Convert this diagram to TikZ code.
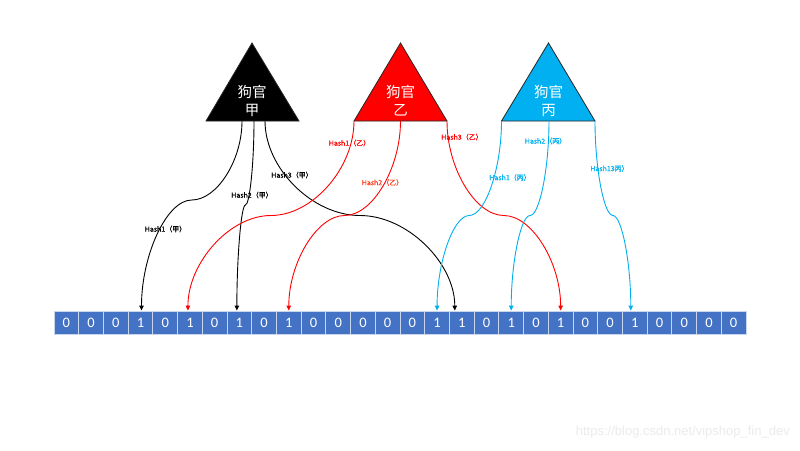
\documentclass[tikz,border=0pt]{standalone}
\usepackage{fontspec}
\setmainfont{Carlito}
\newfontfamily\cjk{Noto Sans CJK SC}
\newfontfamily\cjkb[FakeBold=0.8]{Noto Sans CJK SC}
\newfontfamily\wmfont{Liberation Sans}
\usetikzlibrary{arrows.meta,calc}
\definecolor{cellblue}{HTML}{4472C4}
\definecolor{skyb}{HTML}{00B0F0}
\definecolor{redl}{HTML}{FF0000}
\definecolor{orred}{HTML}{FF4020}
\tikzset{
 cell/.style={fill=cellblue, draw=white!70!cellblue, line width=0.9pt, minimum width=24.714pt, minimum height=23pt, inner sep=0pt, text=white, font=\fontsize{14.5}{14.5}\selectfont},
 tri/.style={draw=black!85, line width=0.8pt},
 trilabel/.style={text=white, font=\cjk\fontsize{14.5}{18}\selectfont, align=center, inner sep=0pt},
 hlabel/.style={font=\cjkb\fontsize{7}{7}\selectfont, inner sep=0pt},
 conn/.style={line width=0.9pt, -{Triangle[length=5pt,width=4.5pt]}},
}
\newcommand\hconn[4]{%
 \draw[conn,#4] let \p1=(#1), \p2=(#2), \p3=(#3) in
 (#1) .. controls (\x1,{0.5*\y1+0.5*\y2}) and ({0.75*\x1+0.25*\x3},\y2)
 .. ({0.5*\x1+0.5*\x3},\y2) .. controls ({0.25*\x1+0.75*\x3},\y2) and (\x3,{0.5*\y2+0.5*\y3}) .. (#3);
}
\begin{document}
\begin{tikzpicture}[x=1pt,y=-1pt]
\fill[white] (0,0) rectangle (800,450);
\useasboundingbox (0,0) rectangle (800,450);

% triangles
\coordinate (jA) at (252,43); \coordinate (jL) at (206,121); \coordinate (jR) at (299,121);
\draw[tri, fill=black] (jA) -- (jR) -- (jL) -- cycle;
\node[trilabel] (jT) at (252,101) {狗官\\甲};

\coordinate (yA) at (400.5,43); \coordinate (yL) at (354,121); \coordinate (yR) at (447,121);
\draw[tri, fill=redl] (yA) -- (yR) -- (yL) -- cycle;
\node[trilabel] (yT) at (400.5,101) {狗官\\乙};

\coordinate (bA) at (548.5,43); \coordinate (bL) at (501.5,121); \coordinate (bR) at (595,121);
\draw[tri, fill=skyb] (bA) -- (bR) -- (bL) -- cycle;
\node[trilabel] (bT) at (548.5,101) {狗官\\丙};

% bit cells
\foreach \b [count=\i from 0] in {0,0,0,1,0,1,0,1,0,1,0,0,0,0,0,1,1,0,1,0,1,0,0,1,0,0,0,0}
  \node[cell] (c\i) at ({54+24.714*(\i+0.5)},322.5) {\b};

% start points
\coordinate (js1) at (242,121); \coordinate (js2) at (254,121); \coordinate (js3) at (265,121);
\coordinate (ys2) at (400.5,121);
\coordinate (bs2) at (549,121);

% end points
\coordinate (e3) at ([xshift=1pt]c3.north);
\coordinate (e5) at ([xshift=-2pt]c5.north);
\coordinate (e7) at ([xshift=-2.5pt]c7.north);
\coordinate (e9) at (c9.north);
\coordinate (e15) at (c15.north);
\coordinate (e16) at ([xshift=-7pt]c16.north);
\coordinate (e18) at (c18.north);
\coordinate (e20) at (c20.north);
\coordinate (e23) at ([xshift=-4pt]c23.north);

% mid levels
\coordinate (mJ1) at (0,200);
\coordinate (mJ2) at (0,205);
\coordinate (mM) at (0,215.5);

% connectors
\hconn{js1}{mJ1}{e3}{black}
\hconn{js2}{mJ2}{e7}{black}
\hconn{js3}{mM}{e16}{black}
\hconn{yL}{mM}{e5}{redl}
\hconn{ys2}{mM}{e9}{redl}
\hconn{yR}{mM}{e20}{redl}
\hconn{bL}{mM}{e15}{skyb}
\hconn{bs2}{mM}{e18}{skyb}
\hconn{bR}{mM}{e23}{skyb}

% labels
\node[hlabel, text=black] (lj1) at (165.5,229) {Hash1（甲）};
\node[hlabel, text=black] (lj2) at (252,195) {Hash2（甲）};
\node[hlabel, text=black] (lj3) at (292,175) {Hash3（甲）};
\node[hlabel, text=redl] (ly1) at (349.5,143) {Hash1（乙）};
\node[hlabel, text=orred] (ly2) at (382.5,182.5) {Hash2（乙）};
\node[hlabel, text=redl] (ly3) at (462,137) {Hash3（乙）};
\node[hlabel, text=skyb] (lb1) at (510,177.5) {Hash1（丙）};
\node[hlabel, text=skyb] (lb2) at (545.5,141) {Hash2（丙）};
\node[hlabel, text=skyb] (lb3) at (609.5,168.5) {Hash13丙）};

% watermark
\node[font=\wmfont\fontsize{13}{13}\selectfont, text=black!8, anchor=east, inner sep=0pt] (wm) at (790,432) {https://blog.csdn.net/vipshop\_fin\_dev};
\end{tikzpicture}
\end{document}
